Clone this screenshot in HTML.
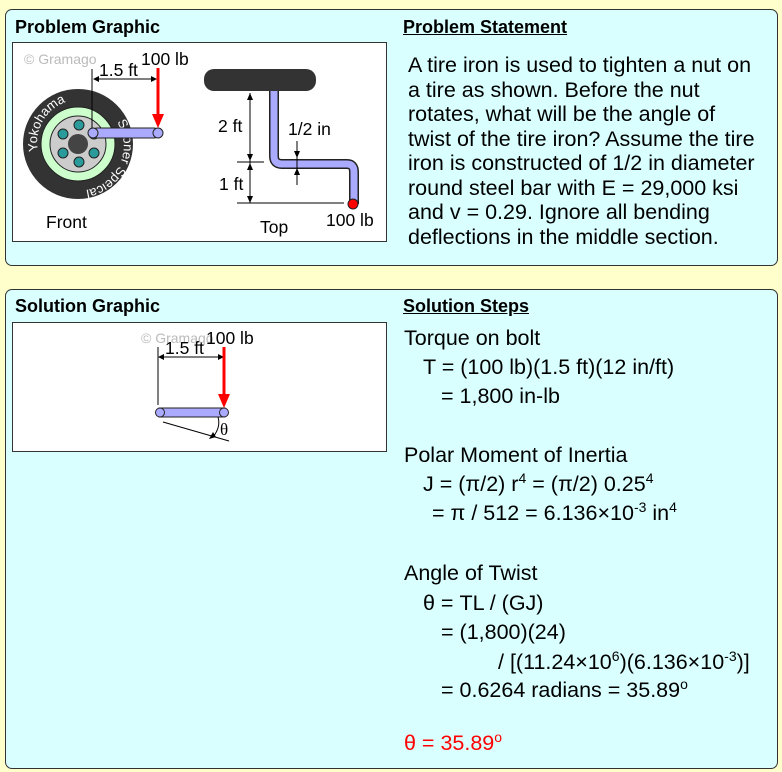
<!DOCTYPE html>
<html><head><meta charset="utf-8"><style>
body{margin:0;width:782px;height:772px;background:#ffffcc;position:relative;overflow:hidden;font-family:"Liberation Sans",sans-serif;}
.panel{position:absolute;left:5px;width:771px;background:#d9ffff;border:1px solid #333;border-radius:7px;}
.h{position:absolute;font-weight:bold;font-size:18px;color:#000;}
.u{text-decoration:underline;}
.box{position:absolute;left:12px;width:373px;background:#fff;border:1px solid #333;}
.t{position:absolute;font-size:21.5px;line-height:21px;color:#000;white-space:nowrap;}
sup{font-size:14px;vertical-align:8px;line-height:0;}
</style></head><body>
<div class="panel" style="top:9px;height:255px"></div>
<div class="panel" style="top:289px;height:478px"></div>
<div class="h" style="left:15px;top:17px">Problem Graphic</div>
<div class="h u" style="left:403px;top:17px">Problem Statement</div>
<div class="h" style="left:15px;top:296px">Solution Graphic</div>
<div class="h u" style="left:403px;top:296px">Solution Steps</div>

<div class="box" style="top:42px;height:198px">
<svg width="373" height="198" viewBox="12 42 373 198" style="position:absolute;left:0;top:0" font-family="Liberation Sans" >
<defs>
<path id="arcTop" d="M37 150 A43 43 0 0 1 100 104"/>
<path id="arcBot" d="M116 121 A45 45 0 0 1 60 186"/>
</defs>
<text x="23" y="63" font-size="14" fill="#bbb">© Gramago</text>
<circle cx="77" cy="143" r="55" fill="#333"/>
<circle cx="77" cy="143" r="37" fill="#ccffcc" stroke="#222"/>
<circle cx="77" cy="143" r="28" fill="#ccc" stroke="#222"/>
<circle cx="77" cy="143" r="10" fill="#444"/>
<g fill="#2a9a9a" stroke="#222"><circle cx="62" cy="133" r="5"/><circle cx="78" cy="124" r="5"/><circle cx="93" cy="133" r="5"/><circle cx="93" cy="152" r="5"/><circle cx="78" cy="161" r="5"/><circle cx="62" cy="152" r="5"/></g>
<text font-size="13" fill="#fff"><textPath href="#arcTop">Yokohama</textPath></text>
<text font-size="13" fill="#fff"><textPath href="#arcBot">Sooner Speical</textPath></text>
<rect x="91" y="127" width="67" height="10" rx="5" fill="#aaaaff" stroke="#222"/>
<circle cx="92" cy="132" r="5" fill="#aaaaff" stroke="#222"/><circle cx="157" cy="132" r="5" fill="#aaaaff" stroke="#222"/>
<line x1="91" y1="68" x2="91" y2="127" stroke="#000"/>
<line x1="93" y1="78" x2="155" y2="78" stroke="#000"/>
<path d="M92 78l6-3v6zM156 78l-6-3v6z"/>
<text x="98" y="75" font-size="17.5">1.5 ft</text>
<text x="140" y="64" font-size="17.5">100 lb</text>
<line x1="157" y1="67" x2="157" y2="115" stroke="red" stroke-width="3"/>
<path d="M151 113h12l-6 14z" fill="red"/>
<text x="45" y="227" font-size="17.5">Front</text>
<rect x="203" y="68" width="112" height="22" rx="10" fill="#333"/>
<path d="M273 90V155q0 8 8 8h65q7 0 7 8V203" fill="none" stroke="#222" stroke-width="10" stroke-linejoin="round"/>
<path d="M273 90V155q0 8 8 8h65q7 0 7 8V203" fill="none" stroke="#aaaaff" stroke-width="7"/>
<circle cx="352" cy="203" r="5" fill="red" stroke="#222"/>
<line x1="249" y1="92" x2="249" y2="202" stroke="#000"/>
<line x1="236" y1="161" x2="263" y2="161" stroke="#000"/>
<line x1="236" y1="202" x2="343" y2="202" stroke="#000"/>
<path d="M249 92l-3 7h6zM249 160l-3-7h6zM249 162l-3 7h6zM249 202l-3-7h6z"/>
<line x1="296" y1="140" x2="296" y2="184" stroke="#000"/>
<path d="M296 157l-3-7h6zM296 167l-3 7h6z"/>
<text x="217" y="131" font-size="17.5">2 ft</text>
<text x="218" y="189" font-size="17.5">1 ft</text>
<text x="287" y="134" font-size="17.5">1/2 in</text>
<text x="259" y="232" font-size="17.5">Top</text>
<text x="325" y="225" font-size="17.5">100 lb</text>
</svg></div>

<div class="box" style="top:322px;height:128px">
<svg width="373" height="128" viewBox="12 322 373 128" style="position:absolute;left:0;top:0" font-family="Liberation Sans">
<text x="140" y="342" font-size="14" fill="#bbb">© Gramago</text>
<text x="205" y="343" font-size="17.5">100 lb</text>
<text x="164" y="353" font-size="17.5">1.5 ft</text>
<line x1="157" y1="346" x2="157" y2="404" stroke="#000"/>
<line x1="158" y1="356" x2="222" y2="356" stroke="#000"/>
<path d="M157 356l6-3v6zM223 356l-6-3v6z"/>
<line x1="223" y1="346" x2="223" y2="395" stroke="red" stroke-width="3"/>
<path d="M217 393h12l-6 14z" fill="red"/>
<rect x="158" y="407" width="66" height="9" fill="#aaaaff" stroke="#222"/>
<circle cx="159" cy="411.5" r="4.5" fill="#aaaaff" stroke="#222"/><circle cx="223" cy="411.5" r="4.5" fill="#aaaaff" stroke="#222"/>
<line x1="162" y1="421" x2="228" y2="440" stroke="#000"/>
<path d="M217 416q3 10-5 20" fill="none" stroke="#000"/>
<path d="M208 438l4-7 3 5z"/>
<text x="219" y="434" font-size="17" font-family="Liberation Serif">θ</text>
</svg></div>

<div class="t" style="left:408px;top:53px;line-height:24.5px">A tire iron is used to tighten a nut on<br>a tire as shown. Before the nut<br>rotates, what will be the angle of<br>twist of the tire iron? Assume the tire<br>iron is constructed of 1/2 in diameter<br>round steel bar with E = 29,000 ksi<br>and v = 0.29. Ignore all bending<br>deflections in the middle section.</div>

<div class="t" style="left:404px;top:328px">Torque on bolt</div>
<div class="t" style="left:423px;top:357px">T = (100 lb)(1.5 ft)(12 in/ft)</div>
<div class="t" style="left:441px;top:386px">= 1,800 in-lb</div>
<div class="t" style="left:404px;top:445px">Polar Moment of Inertia</div>
<div class="t" style="left:423px;top:474px">J = (π/2) r<sup>4</sup> = (π/2) 0.25<sup>4</sup></div>
<div class="t" style="left:432px;top:503px">= π / 512 = 6.136×10<sup>-3</sup> in<sup>4</sup></div>
<div class="t" style="left:404px;top:563px">Angle of Twist</div>
<div class="t" style="left:423px;top:593px">θ = TL / (GJ)</div>
<div class="t" style="left:441px;top:622px">= (1,800)(24)</div>
<div class="t" style="left:498px;top:652px">/ [(11.24×10<sup>6</sup>)(6.136×10<sup>-3</sup>)]</div>
<div class="t" style="left:441px;top:680px">= 0.6264 radians = 35.89<sup>o</sup></div>
<div class="t" style="left:404px;top:733px;color:#f00">θ = 35.89<sup>o</sup></div>
</body></html>
